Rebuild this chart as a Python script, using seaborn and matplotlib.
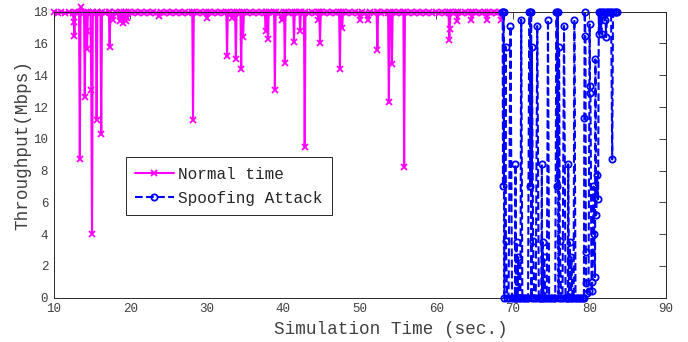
import numpy as np
import pandas as pd
import matplotlib
matplotlib.use("Agg")
import matplotlib.pyplot as plt
import seaborn as sns

# ---------------- data ----------------
normal_t_10 = [10.0,10.5,11.0,11.5,12.0,12.5,12.6,12.7,12.8,13.0,13.3,13.4,13.5,13.95,14.05,14.15,14.3,14.35,14.45,14.8,14.9,15.0,15.1,15.5,15.6,15.7,16.1,16.2,16.3,16.7,17.2,17.3,17.4,17.7,18.0,18.3,18.6,18.8,19.0,19.2,19.4,19.5,19.6,19.8]
normal_y_10 = [18.0,17.9,18.0,17.9,18.0,17.9,17.35,16.45,18.0,17.9,18.0,8.7,18.3,17.9,12.65,18.0,16.8,15.65,18.0,17.9,13.1,4.0,18.0,17.9,11.2,18.0,17.9,10.3,18.0,17.9,18.0,15.8,18.0,17.5,18.0,17.9,17.4,18.0,17.3,18.0,17.4,18.0,17.6,18.0]
normal_t_20 = [20.2,20.6,21.0,21.4,21.8,22.2,22.6,23.0,23.4,23.7,24.0,24.4,24.8,25.2,25.6,26.0,26.4,26.8,27.2,27.6,28.1,28.2,28.3,28.7,29.1,29.5,29.9]
normal_y_20 = [17.9,18.0,17.9,18.0,17.9,18.0,17.9,18.0,17.9,17.7,18.0,17.9,18.0,17.9,18.0,17.9,18.0,17.9,18.0,17.9,18.0,11.2,18.0,17.9,18.0,17.9,18.0]
normal_t_30 = [30.0,30.3,30.7,31.1,31.5,31.9,32.3,32.55,32.65,32.75,33.1,33.3,33.5,33.7,33.8,33.9,34.4,34.5,34.6,34.75,34.85,35.2,35.6,36.0,36.4,36.8,37.2,37.6,37.7,37.8,38.0,38.1,38.5,38.8,38.9,39.0,39.4,39.8]
normal_y_30 = [17.6,18.0,17.9,18.0,17.9,18.0,17.9,18.0,15.2,18.0,17.9,17.6,18.0,17.9,15.0,18.0,17.9,14.4,18.0,16.4,18.0,17.9,18.0,17.9,18.0,17.9,18.0,17.9,16.8,18.0,16.3,18.0,17.9,18.0,13.1,18.0,17.9,17.5]
normal_t_40 = [40.1,40.2,40.3,40.7,41.1,41.3,41.4,41.5,41.9,42.1,42.2,42.3,42.7,42.8,42.9,43.3,43.7,44.1,44.5,44.6,44.7,44.8,44.9,45.3,45.7,46.1,46.5,46.9,47.3,47.4,47.5,47.7,47.8,48.2,48.6,49.0,49.4,49.8,50.0]
normal_y_40 = [18.0,14.8,18.0,17.9,18.0,17.9,16.1,18.0,17.9,18.0,16.8,18.0,17.9,9.5,18.0,17.9,18.0,17.9,18.0,17.5,18.0,16.0,18.0,17.9,18.0,17.9,18.0,17.9,18.0,14.4,18.0,17.0,18.0,17.9,18.0,17.9,18.0,17.9,17.5]
normal_t_50 = [50.3,50.7,51.1,51.4,51.8,52.2,52.3,52.4,52.8,53.2,53.7,53.8,53.9,54.1,54.2,54.3,54.7,55.1,55.5,55.7,55.8,55.9,56.3,56.7,57.1,57.5,57.9,58.3,58.7,59.1,59.5,59.9]
normal_y_50 = [18.0,17.9,17.5,18.0,17.9,18.0,15.6,18.0,17.9,18.0,17.9,12.3,18.0,17.9,14.7,18.0,17.9,18.0,17.9,18.0,8.2,18.0,17.9,18.0,17.9,18.0,17.9,18.0,17.9,18.0,17.9,18.0]
normal_t_60 = [60.3,60.7,61.1,61.5,61.6,61.7,61.75,61.85,62.2,62.6,62.75,62.9,63.3,63.7,64.1,64.5,64.6,64.8,65.2,65.6,66.0,66.4,66.6,66.8,67.2,67.6,68.0,68.3,68.5]
normal_y_60 = [17.9,18.0,17.9,18.0,17.9,16.25,16.9,18.0,17.9,18.0,17.4,18.0,17.9,18.0,17.9,18.0,17.5,18.0,17.9,18.0,17.9,18.0,17.5,18.0,17.9,18.0,17.9,18.0,17.5]

attack_t_1 = [68.6,68.68,68.72,68.8,68.9,69.05,69.1,69.25,69.45,69.7,69.9,70.1,70.28,70.35,70.42,70.5,70.6,70.7,70.85,71.0,71.1,71.25,71.45,71.65,71.85,72.0]
attack_y_1 = [18.0,18.0,7.0,18.0,0.0,15.8,3.6,0.0,0.0,17.1,0.0,0.0,0.0,8.4,0.0,3.5,0.0,2.55,0.0,0.0,17.5,0.0,0.0,0.0,0.0,0.0]
attack_t_2 = [72.15,72.25,72.3,72.4,72.45,72.5,72.65,72.8,73.0,73.2,73.4,73.6,73.72,73.8,73.85,73.9,74.0,74.1,74.25,74.45,74.6,74.75,74.95,75.15,75.35,75.55]
attack_y_2 = [18.0,18.0,7.0,18.0,0.0,15.8,3.6,0.0,0.0,17.1,0.0,0.0,0.0,8.4,0.0,3.5,0.0,2.55,0.0,0.0,17.5,0.0,0.0,0.0,0.0,0.0]
attack_t_3 = [75.7,75.76,75.8,75.9,75.98,76.05,76.15,76.3,76.5,76.7,76.9,77.1,77.2,77.25,77.35,77.45,77.55,77.65,77.8,77.95,78.05,78.2,78.4,78.6,78.8,79.0]
attack_y_3 = [18.0,18.0,7.0,18.0,0.0,15.8,3.6,0.0,0.0,17.1,0.0,0.0,0.0,8.4,0.0,3.5,0.0,2.55,0.0,0.0,17.5,0.0,0.0,0.0,0.0,0.0]
attack_t_4 = [79.2,79.3,79.35,79.4,79.5,79.55,79.6,79.75,79.9,80.05,80.1,80.15,80.3,80.4,80.55,80.65,80.75,80.8,80.9,81.0,81.15,81.25,81.3,81.45,81.6,81.7,81.85,82.0,82.1,82.2,82.35,82.5,82.7,82.85,83.0,83.1,83.3,83.5,83.65]
attack_y_4 = [0.0,0.0,11.3,18.0,16.45,2.9,0.9,0.3,0.4,17.2,13.3,12.9,0.4,1.0,7.0,4.0,1.3,15.0,5.2,7.7,6.2,18.0,16.6,18.0,16.6,18.0,18.0,17.45,18.0,16.4,18.0,18.0,18.0,18.0,8.7,18.0,18.0,18.0,18.0]

x_ticks = [10, 20, 30, 40, 50, 60, 70, 80, 90]
y_ticks = [0, 2, 4, 6, 8, 10, 12, 14, 16, 18]

normal = pd.DataFrame({
    "time": normal_t_10 + normal_t_20 + normal_t_30 + normal_t_40 + normal_t_50 + normal_t_60,
    "tput": normal_y_10 + normal_y_20 + normal_y_30 + normal_y_40 + normal_y_50 + normal_y_60,
})
attack = pd.DataFrame({
    "time": attack_t_1 + attack_t_2 + attack_t_3 + attack_t_4,
    "tput": attack_y_1 + attack_y_2 + attack_y_3 + attack_y_4,
})

# ---------------- style ----------------
sns.set_style("white")
plt.rcParams["font.family"] = ["Liberation Mono", "DejaVu Sans Mono"]
axcol = "#262626"
txtcol = "#404040"

fig = plt.figure(figsize=(6.88, 3.42), dpi=100)
ax = fig.add_axes([0.0782, 0.1295, 0.8895, 0.8363])

sns.lineplot(data=normal, x="time", y="tput", ax=ax, estimator=None, sort=False,
             color="#FF00FF", lw=1.5, marker="x", markersize=5,
             markeredgecolor="#FF00FF", markeredgewidth=1.3,
             label="Normal time", clip_on=False, zorder=2)
sns.lineplot(data=attack, x="time", y="tput", ax=ax, estimator=None, sort=False,
             color="#0000FF", lw=1.5, linestyle="--", marker="o", markersize=4.5,
             markerfacecolor="none", markeredgecolor="#0000FF", markeredgewidth=1.3,
             label="Spoofing Attack", clip_on=False, zorder=3)

ax.set_xlim(10, 90)
ax.set_ylim(0, 18)
ax.set_xticks(x_ticks)
ax.set_yticks(y_ticks)
ax.tick_params(direction="in", top=True, right=True, length=5, width=0.6,
               color=axcol, labelcolor=txtcol, labelsize=9, pad=4)
for s in ax.spines.values():
    s.set_visible(True)
    s.set_color(axcol)
    s.set_linewidth(0.7)

ax.set_xlabel("Simulation Time (sec.)", fontsize=12.7, color=txtcol)
ax.set_ylabel("Throughput(Mbps)", fontsize=12.7, color=txtcol)
ax.xaxis.set_label_coords(0.551, -0.082)
ax.yaxis.set_label_coords(-0.036, 0.534)

leg = ax.legend(loc="upper left", bbox_to_anchor=(0.1175, 0.491), borderaxespad=0,
                fontsize=11.5, frameon=True, fancybox=False, framealpha=1,
                edgecolor=axcol, handlelength=2.4, handletextpad=0.25,
                labelspacing=0.55, borderpad=0.6)
leg.get_frame().set_linewidth(0.7)
for t in leg.get_texts():
    t.set_color(axcol)

fig.savefig("out.png", dpi=100)
